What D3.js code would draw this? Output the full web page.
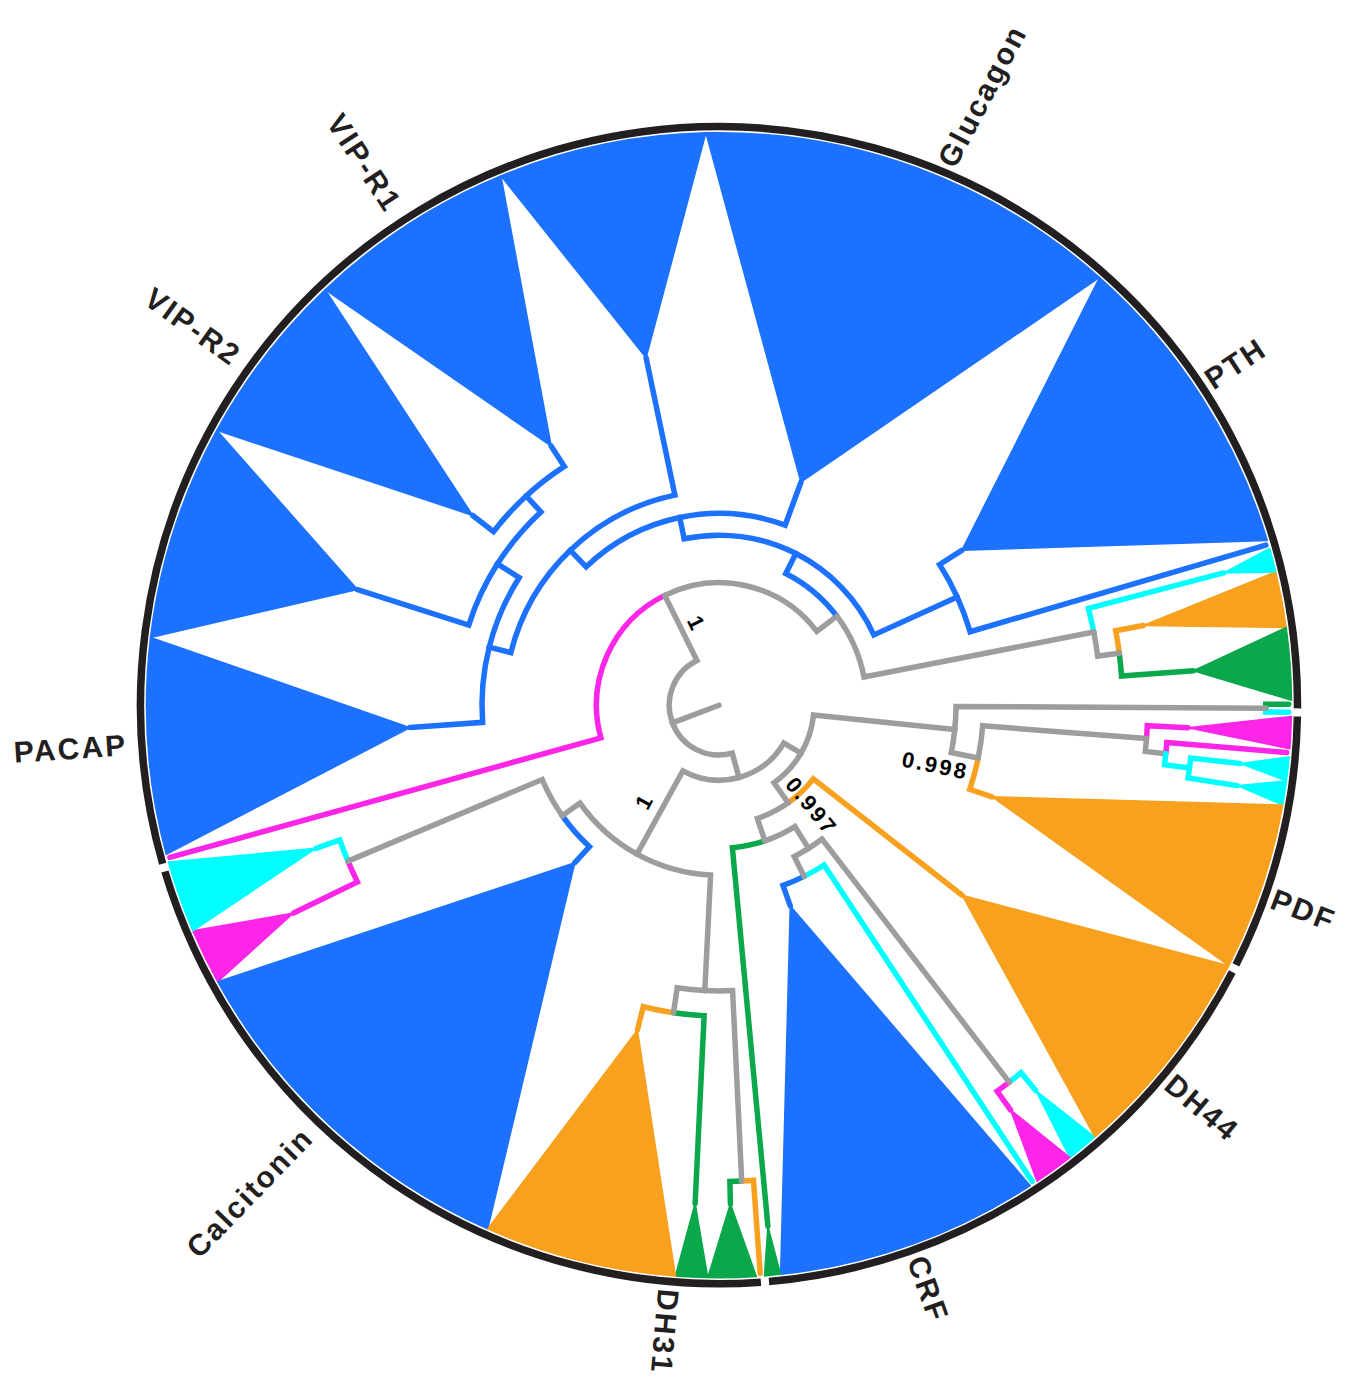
<!DOCTYPE html>
<html>
<head>
<meta charset="utf-8">
<script src="https://cdn.jsdelivr.net/npm/d3@7"></script>
<style>
  html, body { margin: 0; padding: 0; background: #ffffff; }
  svg { display: block; }
</style>
</head>
<body>
<svg id="chart" width="1353" height="1377"></svg>
<script>
// ------------------------------------------------------------------
// Tree data (secretin-family receptor phylogeny, collapsed clades)
// depth = distance from the root (tips at 1), tips are numbered
// clockwise around the circle.
// ------------------------------------------------------------------
const TIP_COUNT = 444;

// internal nodes: id, parent, depth, colour
const internalNodes = [
  ["root", "",      0.087, "gray"],
  ["A",    "root",  0.214, "gray"],
  ["G1",   "A",     0.258, "gray"],
  ["Nd",   "G1",    0.297, "blue"],
  ["Nc",   "Nd",    0.335, "blue"],
  ["Nb",   "Nc",    0.375, "blue"],
  ["Na",   "Nb",    0.414, "blue"],
  ["Nvip", "Na",    0.459, "blue"],
  ["Nvip2","Nvip",  0.497, "blue"],
  ["Ne",   "Nd",    0.457, "blue"],
  ["G2",   "G1",    0.667, "gray"],
  ["G3",   "G2",    0.705, "gray"],
  ["B",    "root",  0.131, "gray"],
  ["B2",   "B",     0.166, "gray"],
  ["a",    "B2",    0.414, "gray"],
  ["a1",   "a",     0.955, "gray"],
  ["a2",   "a",     0.462, "gray"],
  ["a3",   "a2",    0.749, "gray"],
  ["a4",   "a3",    0.785, "gray"],
  ["a5",   "a4",    0.829, "cyan"],
  ["b",    "B2",    0.209, "gray"],
  ["c",    "b",     0.250, "gray"],
  ["d",    "c",     0.295, "gray"],
  ["e",    "d",     0.334, "gray"],
  ["f",    "d",     0.831, "gray"],
  ["B1",   "B",     0.297, "gray"],
  ["g",    "B1",    0.335, "gray"],
  ["h",    "g",     0.703, "gray"],
  ["i",    "B1",    0.499, "gray"],
  ["j",    "i",     0.543, "gray"],
  ["l",    "i",     0.832, "gray"]
];

// collapsed clades: id, parent, depth of clade node, first tip, tip count, colour
const collapsedClades = [
  ["pdfMagenta",   "a3",    0.820,   2,  4, "magenta"],
  ["pdfCyanA",     "a5",    0.916,   7,  3, "cyan"],
  ["pdfCyanB",     "a5",    0.916,  10,  3, "cyan"],
  ["pdfOrange",    "a2",    0.503,  13, 21, "orange"],
  ["dh44Orange",   "b",     0.539,  34, 27, "orange"],
  ["dh44Cyan",     "f",     0.871,  61,  4, "cyan"],
  ["dh44Magenta",  "f",     0.871,  65,  5, "magenta"],
  ["crfBlue",      "e",     0.372,  71, 33, "blue"],
  ["crfGreen",     "c",     0.914, 104,  2, "green"],
  ["dh31GreenA",   "l",     0.871, 107,  6, "green"],
  ["dh31GreenB",   "j",     0.871, 113,  4, "green"],
  ["dh31Orange",   "j",     0.585, 117, 24, "orange"],
  ["calcBlue",     "g",     0.373, 141, 46, "blue"],
  ["calcMagenta",  "h",     0.827, 187,  7, "magenta"],
  ["calcCyan",     "h",     0.747, 194,  9, "cyan"],
  ["pacapBlue",    "Na",    0.541, 204, 27, "blue"],
  ["vipBlueA",     "Nvip",  0.663, 231, 27, "blue"],
  ["vipR2Blue",    "Nvip2", 0.543, 258, 22, "blue"],
  ["vipR1Blue",    "Nvip2", 0.539, 280, 26, "blue"],
  ["vipBlueB",     "Nb",    0.620, 306, 26, "blue"],
  ["glucagonBlue", "Nc",    0.415, 332, 53, "blue"],
  ["pthBlue",      "Ne",    0.503, 385, 39, "blue"],
  ["pthCyan",      "G2",    0.911, 425,  3, "cyan"],
  ["pthOrange",    "G3",    0.754, 428,  7, "orange"],
  ["pthGreen",     "G3",    0.831, 435,  9, "green"]
];

// single tips: id, parent, tip number, colour
const singleLeaves = [
  ["tipG0",   "a1",   0, "green"],
  ["tipC1",   "a1",   1, "cyan"],
  ["tipM6",   "a4",   6, "magenta"],
  ["tipC70",  "e",   70, "cyan"],
  ["tipO106", "l",  106, "orange"],
  ["tipM203", "A",  203, "magenta"],
  ["tipB424", "Ne", 424, "blue"]
];

// node support values: node id, label
const supportValues = [
  ["A",  "1"],
  ["B1", "1"],
  ["b",  "0.997"],
  ["a2", "0.998"]
];

// receptor family labels: text, tip position
const familyLabels = [
  ["Glucagon",   361.7],
  ["PTH",        403.3],
  ["PDF",         24.3],
  ["DH44",        49.7],
  ["CRF",         87.3],
  ["DH31",       117.7],
  ["Calcitonin", 165.8],
  ["PACAP",      217.9],
  ["VIP-R2",     266.7],
  ["VIP-R1",     292.7]
];

// outer ring segments: first tip, last tip
const ringGroups = [
  [1.5, 34],
  [34, 106],
  [106, 202.5],
  [202.5, 445.5]
];

const palette = {
  gray:    "#9d9d9d",
  blue:    "#1c72fe",
  magenta: "#fd25e8",
  cyan:    "#00ffff",
  orange:  "#f8a11f",
  green:   "#0aa84a"
};

// ------------------------------------------------------------------
const W = 1353, H = 1377;
const cx = 719, cy = 705.2;
const R_TIP = 572.5, RING_R = 578.5;
const LINE_W = 5.5;
const DEG = Math.PI / 180;

const angle  = d3.scaleLinear().domain([0, TIP_COUNT]).range([-0.5 * DEG, 359.5 * DEG]);
const radius = d3.scaleLinear().domain([0, 1]).range([0, R_TIP]);
const pt = (r, a) => [cx + r * Math.cos(a), cy + r * Math.sin(a)];

const table = [
  ...internalNodes.map(([id, parent, depth, colour]) =>
    ({ id, parent: parent || null, depth, colour, kind: "node" })),
  ...collapsedClades.map(([id, parent, depth, first, tips, colour]) =>
    ({ id, parent, depth, colour, kind: "clade", first, tips })),
  ...singleLeaves.map(([id, parent, tip, colour]) =>
    ({ id, parent, depth: 1, colour, kind: "leaf", first: tip, tips: 1 }))
];

const root = d3.stratify().id(d => d.id).parentId(d => d.parent)(table);
// node position = midpoint of its outermost children (tip units)
root.eachAfter(n => {
  if (n.children) {
    const ps = n.children.map(c => c.pos);
    n.pos = (d3.min(ps) + d3.max(ps)) / 2;
  } else {
    n.pos = n.data.first + n.data.tips / 2;
  }
});
const byId = new Map(root.descendants().map(n => [n.id, n]));

const svg = d3.select("#chart");
svg.append("rect").attr("width", W).attr("height", H).attr("fill", "#ffffff");

// collapsed clade wedges
const wedgeG = svg.append("g");
root.leaves().filter(n => n.data.kind === "clade").forEach(n => {
  const a = angle(n.pos), r0 = radius(n.data.depth);
  const s = angle(n.data.first), e = angle(n.data.first + n.data.tips);
  const p = d3.path();
  p.moveTo(...pt(r0, a));
  p.lineTo(...pt(R_TIP, s));
  p.arc(cx, cy, R_TIP, s, e, false);
  p.closePath();
  wedgeG.append("path")
    .attr("d", p.toString())
    .attr("fill", palette[n.data.colour])
    .attr("stroke", palette[n.data.colour])
    .attr("stroke-width", 1.5)
    .attr("stroke-linejoin", "round");
});

// branches: arc at the parent radius, then radial segment out to the child
const edgeG = svg.append("g")
  .attr("fill", "none")
  .attr("stroke-width", LINE_W)
  .attr("stroke-linecap", "round")
  .attr("stroke-linejoin", "miter");

function edgePath(n) {
  const p = d3.path();
  const a0 = angle(n.parent.pos), a1 = angle(n.pos);
  const rp = radius(n.parent.data.depth);
  let rc = radius(n.data.depth);
  if (n.data.kind === "leaf") rc -= LINE_W / 2;
  p.moveTo(...pt(rp, a0));
  if (Math.abs(a1 - a0) > 1e-6) p.arc(cx, cy, rp, a0, a1, a1 < a0);
  p.lineTo(...pt(rc, a1));
  return p.toString();
}

const edges = root.descendants().filter(n => n.parent);
// coloured tips and clades first, grey backbone on top
const order = n => (n.data.kind === "node" ? 1 : 0);
edges.sort((x, y) => order(x) - order(y)).forEach(n => {
  edgeG.append("path")
    .attr("d", edgePath(n))
    .attr("stroke", palette[n.data.colour]);
});

// root edge
{
  const a = angle(root.pos);
  const p = d3.path();
  p.moveTo(...pt(radius(0), a));
  p.lineTo(...pt(radius(root.data.depth), a));
  edgeG.append("path").attr("d", p.toString()).attr("stroke", palette.gray);
}

// support values next to their branches
const supportStyle = {
  A:  { along: 83,  across: 16,  turn: 0 },
  B1: { along: 120, across: 19,  turn: 0 },
  b:  { along: 136, across: -17, turn: -4 },
  a2: { along: 224, across: 16,  turn: 0 }
};
const supG = svg.append("g")
  .attr("font-family", "'Liberation Sans', Arial, Helvetica, sans-serif")
  .attr("font-weight", "bold")
  .attr("font-size", 22)
  .attr("fill", "#000000");
supportValues.forEach(([id, text]) => {
  const n = byId.get(id), st = supportStyle[id];
  const a = angle(n.pos);
  const [x0, y0] = pt(st.along, a);
  const x = x0 - Math.sin(a) * st.across, y = y0 + Math.cos(a) * st.across;
  let rot = a / DEG + st.turn;
  const deg = ((a / DEG) % 360 + 360) % 360;
  if (deg > 90 && deg < 270) rot += 180;
  supG.append("text")
    .attr("transform", `translate(${x},${y}) rotate(${rot})`)
    .attr("text-anchor", "middle")
    .attr("dominant-baseline", "central")
    .style("letter-spacing", "2.5px")
    .text(text);
});

// outer ring
const ringG = svg.append("g")
  .attr("fill", "none")
  .attr("stroke", "#231f20")
  .attr("stroke-width", 7.5);
const GAP = 0.4 * DEG;
ringGroups.forEach(([from, to]) => {
  const p = d3.path();
  const s = angle(from) + GAP, e = angle(to) - GAP;
  p.moveTo(...pt(RING_R, s));
  p.arc(cx, cy, RING_R, s, e, false);
  ringG.append("path").attr("d", p.toString());
});

// family labels
const labelTurn = { Glucagon: 5, PDF: 2 };
const labG = svg.append("g")
  .attr("font-family", "'Liberation Sans', Arial, Helvetica, sans-serif")
  .attr("font-weight", "bold")
  .attr("font-size", 30)
  .attr("fill", "#231f20");
familyLabels.forEach(([text, pos]) => {
  const a = angle(pos);
  const deg = ((a / DEG) % 360 + 360) % 360;
  const flip = deg > 100 && deg < 260;
  const [x, y] = pt(flip ? 593 : 586, a);
  const rot = (flip ? deg + 180 : deg) + (labelTurn[text] || 0);
  labG.append("text")
    .attr("transform", `translate(${x},${y}) rotate(${rot})`)
    .attr("text-anchor", flip ? "end" : "start")
    .attr("dominant-baseline", "central")
    .style("letter-spacing", "2.2px")
    .text(text);
});
</script>
</body>
</html>
